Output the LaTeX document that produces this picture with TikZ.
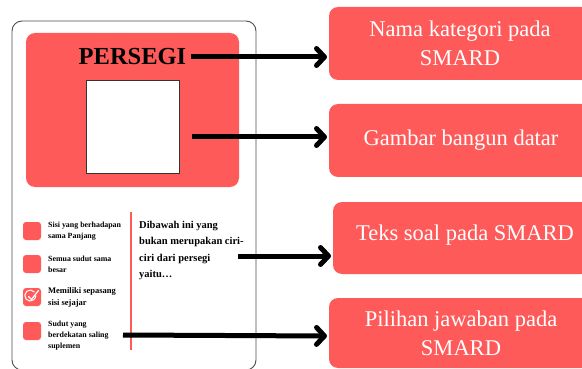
\documentclass[tikz,border=0pt]{standalone}
\usepackage{fontspec}
\setmainfont{Liberation Serif}
\usetikzlibrary{arrows.meta}
\definecolor{cardred}{HTML}{FF5A5A}
\tikzset{
  redbox/.style={fill=cardred, rounded corners=9pt, draw=none},
  lbl/.style={text=white, font=\fontsize{22.5}{29}\selectfont, align=center},
  conn/.style={line width=5pt, -{Straight Barb[length=8pt,width=17pt,line cap=round,line join=round]}},
  opt/.style={font=\bfseries\fontsize{7.9}{11}\selectfont, align=left, anchor=west, inner sep=0pt},
  chk/.style={fill=cardred, rounded corners=3pt, minimum size=18pt, inner sep=0pt},
}
\begin{document}
\begin{tikzpicture}[x=1pt,y=-1pt]
\useasboundingbox (0,0) rectangle (582,369);
% card
\draw[line width=0.9pt, draw=black!70, rounded corners=10pt] (12,21) rectangle (256,370);
\fill[cardred, rounded corners=9pt] (26,33) rectangle (239,187);
\node[font=\bfseries\fontsize{24.5}{26}\selectfont, inner sep=0pt] (title) at (132.5,57) {PERSEGI};
\node[draw=black!80, fill=white, line width=0.8pt, minimum width=93pt, minimum height=93pt, inner sep=0pt] (sq) at (132.5,126.5) {};
% checkboxes
\node[chk] (c1) at (32,231) {};
\node[chk] (c2) at (32,264) {};
\node[chk] (c3) at (32,297) {};
\node[chk] (c4) at (32,331) {};
\draw[white, line width=1pt] (34.5,292) arc[start angle=40, end angle=360, radius=5.5pt];
\draw[white, line width=1.3pt, line cap=round, line join=round] (28.5,296.5) -- (31.5,299.5) -- (38.5,290.5);
\node[opt] (o1) at (48,231.5) {Sisi yang berhadapan\\sama Panjang};
\node[opt] (o2) at (48,264.5) {Semua sudut sama\\besar};
\node[opt, font=\bfseries\fontsize{8.5}{12}\selectfont] (o3) at (48,297) {Memiliki sepasang\\sisi sejajar};
\node[opt, anchor=north west] (o4) at (48,321) {Sudut yang\\berdekatan saling\\suplemen};
\draw[cardred, line width=2pt] (131,212) -- (131,350);
\node[font=\bfseries\fontsize{10.5}{16.5}\selectfont, align=left, anchor=north west, inner sep=0pt] (q) at (139,221) {Dibawah ini yang\\bukan merupakan ciri-\\ciri dari persegi\\yaitu\dots};
% right boxes
\fill[redbox] (329,7) rectangle (590,80);
\fill[redbox] (329,104) rectangle (590,177);
\fill[redbox] (333,202) rectangle (590,274);
\fill[redbox] (329,298) rectangle (590,368);
\node[lbl] (b1) at (460,43) {Nama kategori pada\\SMARD};
\node[lbl] (b2) at (461,140) {Gambar bangun datar};
\node[lbl] (b3) at (465,235) {Teks soal pada SMARD};
\node[lbl] (b4) at (461,333) {Pilihan jawaban pada\\SMARD};
\coordinate (t1) at (327,57);
\coordinate (t2) at (327,137);
\coordinate (t3) at (331,256);
\coordinate (t4) at (327,336);
\coordinate (s1) at (191,57);
\coordinate (s2) at (192,137);
\coordinate (s3) at (238,256);
\coordinate (s4) at (123,335);
\draw[conn] (s1) -- (t1);
\draw[conn] (s2) -- (t2);
\draw[conn] (s3) -- (t3);
\draw[conn] (s4) -- (t4);
\end{tikzpicture}
\end{document}
